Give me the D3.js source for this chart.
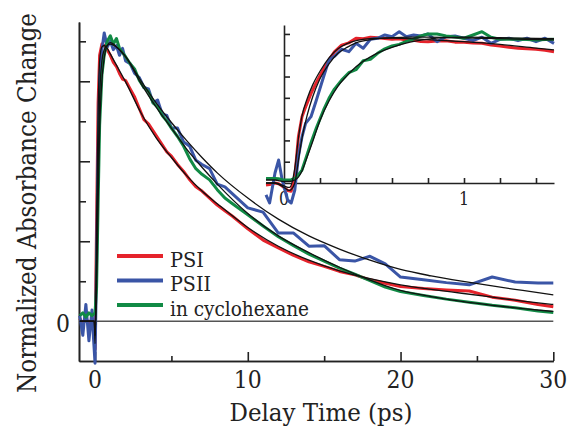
<!DOCTYPE html>
<html>
<head>
<meta charset="utf-8">
<script src="https://cdn.jsdelivr.net/npm/d3@7"></script>
</head>
<body style="margin:0">
<div id="root"></div>
<script>
// main panel data (time in ps, normalized absorbance change)
const mainTime = [-1.0,-0.8,-0.6,-0.4,-0.2,-0.1,0,0.1,0.2,0.3,0.45,0.6,0.8,1.0,1.2,1.4,1.6,1.8,2.0,
    2.3,2.6,2.9,3.2,3.5,3.8,4.1,4.4,4.7,5.0,5.4,5.8,6.2,6.6,7.0,7.5,8.0,8.5,
    9,10,11,12,13,14,15,16,17,18,19,20,21.5,23,24.5,26,27.5,29,30];
const psiMain = [0.01,-0.01,0.015,-0.015,0.01,-0.02,-0.1,0.35,0.78,0.95,0.99,0.985,0.97,0.95,0.925,0.91,0.885,0.865,0.86,
    0.83,0.80,0.76,0.72,0.705,0.68,0.655,0.63,0.605,0.59,0.56,0.535,0.505,0.48,0.465,0.44,0.415,0.395,
    0.375,0.33,0.29,0.262,0.235,0.212,0.196,0.178,0.166,0.148,0.136,0.124,0.117,0.112,0.108,0.086,0.075,0.06,0.052];
const psiiMain = [0.02,-0.05,0.06,-0.07,0.04,-0.06,-0.15,0.22,0.62,0.86,0.97,1.03,0.98,1.0,0.97,0.985,0.95,0.975,0.93,
    0.92,0.885,0.87,0.835,0.83,0.78,0.79,0.74,0.735,0.69,0.69,0.64,0.625,0.575,0.56,0.545,0.49,0.48,
    0.455,0.405,0.39,0.315,0.315,0.268,0.27,0.22,0.215,0.232,0.205,0.158,0.148,0.138,0.13,0.158,0.14,0.137,0.137];
const cycloMain = [0.02,0.03,0.015,0.03,0.02,0.025,0.03,0.12,0.42,0.7,0.88,0.95,1.0,1.02,0.99,1.01,0.975,0.96,0.945,
    0.92,0.90,0.86,0.835,0.82,0.78,0.765,0.735,0.715,0.69,0.66,0.625,0.58,0.545,0.525,0.505,0.47,0.44,
    0.42,0.38,0.34,0.302,0.27,0.24,0.215,0.19,0.168,0.145,0.122,0.106,0.092,0.079,0.068,0.057,0.048,0.037,0.031];

const fitTime = [-1.0,-0.3,-0.05,0,0.05,0.1,0.2,0.3,0.45,0.6,0.8,1.0,1.5,2,3,4,5,6,7,8,10,12,14,16,18,20,22,24,26,28,30];
const psiFit = [0,0,0,-0.08,0.05,0.35,0.74,0.93,0.98,0.985,0.975,0.955,0.905,0.855,0.745,0.655,0.585,0.52,0.465,0.42,
    0.335,0.268,0.218,0.18,0.152,0.13,0.114,0.1,0.086,0.072,0.06];
const psiiFit = [0,0,0,-0.05,0.04,0.2,0.55,0.8,0.93,0.97,0.985,0.99,0.975,0.945,0.86,0.78,0.71,0.645,0.585,0.53,
    0.44,0.365,0.305,0.258,0.218,0.185,0.162,0.143,0.126,0.11,0.094];
const cycloFit = [0,0,0,-0.05,0.03,0.12,0.42,0.68,0.86,0.94,0.985,0.995,0.975,0.945,0.85,0.765,0.69,0.615,0.55,0.49,
    0.385,0.305,0.245,0.193,0.147,0.11,0.088,0.071,0.057,0.045,0.035];

// inset data (first 1.5 ps)
const insetTime = [-0.1,-0.08,-0.05,-0.03,-0.01,0.02,0.04,0.06,0.08,0.1,0.12,0.15,0.18,0.22,0.25,0.28,0.32,0.36,0.4,0.44,
    0.48,0.52,0.56,0.6,0.64,0.68,0.72,0.76,0.8,0.85,0.9,0.95,1.0,1.05,1.1,1.15,1.2,1.25,1.3,1.35,1.4,1.45,1.5];
const psiInset = [-0.013,-0.01,0.0,-0.005,-0.02,-0.05,-0.055,0.04,0.31,0.445,0.51,0.6,0.675,0.765,0.826,0.88,0.925,0.94,0.971,0.968,
    0.978,0.975,0.97,0.964,0.968,0.96,0.958,0.95,0.948,0.952,0.955,0.945,0.944,0.94,0.937,0.925,0.919,0.91,0.904,0.9,0.897,0.89,0.881];
const psiiInset = [-0.08,-0.134,0.067,0.154,0.02,-0.114,-0.134,-0.047,0.177,0.31,0.4,0.445,0.557,0.713,0.826,0.85,0.897,0.881,0.937,0.904,
    0.964,0.971,0.993,0.982,1.015,0.982,0.993,0.987,1.0,0.948,0.982,0.987,0.971,0.955,0.978,0.937,0.964,0.971,0.955,0.971,0.948,0.971,0.937];
const cycloInset = [0.031,0.03,0.031,0.028,0.022,0.02,0.022,0.03,0.055,0.087,0.16,0.27,0.37,0.49,0.568,0.63,0.69,0.74,0.76,0.82,
    0.83,0.87,0.9,0.919,0.93,0.95,0.965,0.987,1.0,1.0,0.987,0.98,0.971,0.993,1.015,0.978,0.964,0.965,0.964,0.962,0.96,0.963,0.964];

const insetFitTime = [-0.1,-0.05,0,0.03,0.06,0.08,0.1,0.13,0.16,0.2,0.25,0.3,0.35,0.4,0.5,0.6,0.7,0.8,0.9,1.0,1.2,1.4,1.5];
const psiInsetFit = [0,0,-0.02,-0.03,0.1,0.3,0.45,0.57,0.66,0.75,0.84,0.9,0.935,0.955,0.97,0.972,0.968,0.962,0.955,0.948,0.93,0.905,0.893];
const psiiInsetFit = [0,0,-0.03,-0.05,0.0,0.15,0.3,0.46,0.58,0.7,0.8,0.87,0.91,0.94,0.965,0.975,0.978,0.978,0.976,0.973,0.968,0.962,0.96];
const cycloInsetFit = [0.02,0.02,0.01,0.01,0.02,0.04,0.08,0.18,0.28,0.42,0.55,0.65,0.72,0.78,0.86,0.91,0.945,0.965,0.975,0.978,0.975,0.97,0.968];

const xMajorTicks = [0, 10, 20, 30];
const xMinorTicks = [5, 15, 25];
const yLongTicks = [0, 2/7, 4/7, 6/7];
const yShortTicks = [1/7, 3/7, 5/7, 1];
const insetXTicks = [0.2, 0.4, 0.6, 0.8, 1.0, 1.2, 1.4];
const insetXLabels = [0, 1];
const insetYTicks = [1/7, 2/7, 3/7, 4/7, 5/7, 6/7, 1];

const seriesNames = ["PSI", "PSII", "in cyclohexane"];
const seriesColors = ["#e5232b", "#3a55a6", "#118a45"];

// the only serif face the renderer resolves; width is squeezed to the original Times widths
const serifFace = "DejaVu Serif";

const outerWidth = 574;
const outerHeight = 427;

let svg = d3.select("#root")
            .append("svg")
            .attr("width", outerWidth)
            .attr("height", outerHeight);

function addText(x, y, size, str, anchor, width) {
    let t = svg.append("text")
               .attr("x", x)
               .attr("y", y)
               .attr("text-anchor", anchor || "start")
               .attr("fill", "#222")
               .attr("font-family", serifFace)
               .attr("font-size", size)
               .text(str);
    if (width) { t.attr("textLength", width).attr("lengthAdjust", "spacingAndGlyphs"); }
    return t;
}

let scaleX = d3.scaleLinear().domain([-1.05, 30]).range([79, 553.3]);
let scaleY = d3.scaleLinear().domain([-0.142, 1.069]).range([361, 22]);

let insetX = d3.scaleLinear().domain([0, 1.5]).range([284, 554]);
let insetY = d3.scaleLinear().domain([0, 1.06]).range([183, 25]);

// axis titles
addText(321, 421, 24, "Delay Time (ps)", "middle", 183);
addText(-203, 36, 25.5, "Normalized Absorbance Change", "middle", 380).attr("transform", "rotate(-90)");

// tick labels
xMajorTicks.forEach(t => addText(scaleX(t), 388, 24.5, t, "middle", String(t).length * 14));
addText(70, 332, 24.5, "0", "end", 14);
insetXLabels.forEach(t => addText(insetX(t), 205, 19, t, "middle", 10));

// legend
const legendWidths = [34, 41, 139];
seriesNames.forEach((name, i) => {
    addText(170, 266.5 + i * 24.5, 20.5, name, "start", legendWidths[i]);
    svg.append("line")
        .attr("x1", 117).attr("x2", 163)
        .attr("y1", 256 + i * 24.5).attr("y2", 256 + i * 24.5)
        .attr("stroke", seriesColors[i])
        .attr("stroke-width", 4);
});

function drawSeries(g, xs, ys, times, values, color, w) {
    let line = d3.line()
                 .x((d, i) => xs(times[i]))
                 .y(d => ys(d))
                 .curve(color == "#111" ? d3.curveMonotoneX : d3.curveLinear);
    g.append("path")
        .datum(values)
        .attr("d", line)
        .attr("fill", "none")
        .attr("stroke", color)
        .attr("stroke-width", w)
        .attr("stroke-linejoin", "round");
}

// zero line
svg.append("line")
    .attr("x1", scaleX.range()[0]).attr("x2", scaleX.range()[1])
    .attr("y1", scaleY(0)).attr("y2", scaleY(0))
    .attr("stroke", "#555").attr("stroke-width", 1.6);

// axes: lines only, labels are drawn above
let xAxis = d3.axisBottom(scaleX).tickValues(xMajorTicks).tickSize(-9).tickSizeOuter(0).tickFormat("");
let xAxisMinor = d3.axisBottom(scaleX).tickValues(xMinorTicks).tickSize(-5).tickSizeOuter(0).tickFormat("");
let yAxisLong = d3.axisLeft(scaleY).tickValues(yLongTicks).tickSize(-11).tickSizeOuter(0).tickFormat("");
let yAxisShort = d3.axisLeft(scaleY).tickValues(yShortTicks).tickSize(-7).tickSizeOuter(0).tickFormat("");

function styleAxis(g) {
    g.selectAll("text").remove();
    g.selectAll("path, line").attr("stroke", "#222").attr("stroke-width", 1.6);
}

svg.append("g").attr("transform", `translate(0, ${scaleY.range()[0]})`).call(xAxis).call(styleAxis);
svg.append("g").attr("transform", `translate(0, ${scaleY.range()[0]})`).call(xAxisMinor).call(styleAxis);
svg.append("g").attr("transform", `translate(${scaleX.range()[0]}, 0)`).call(yAxisLong).call(styleAxis);
svg.append("g").attr("transform", `translate(${scaleX.range()[0]}, 0)`).call(yAxisShort).call(styleAxis);

// main traces
let mainG = svg.append("g");
[psiMain, psiiMain, cycloMain].forEach((vals, i) => {
    drawSeries(mainG, scaleX, scaleY, mainTime, vals, seriesColors[i], 3);
});
[psiFit, psiiFit, cycloFit].forEach(vals => {
    drawSeries(mainG, scaleX, scaleY, fitTime, vals, "#111", 1.3);
});

// inset axes
let insetXAxis = d3.axisBottom(insetX).tickValues(insetXTicks).tickSize(-5).tickSizeOuter(0).tickFormat("");
let insetYAxis = d3.axisLeft(insetY).tickValues(insetYTicks).tickSize(-6).tickSizeOuter(0).tickFormat("");
svg.append("g").attr("transform", `translate(0, ${insetY(0)})`).call(insetXAxis).call(styleAxis);
svg.append("g").attr("transform", `translate(${insetX(0)}, 0)`).call(insetYAxis).call(styleAxis);

let insetG = svg.append("g");
[psiInset, psiiInset, cycloInset].forEach((vals, i) => {
    drawSeries(insetG, insetX, insetY, insetTime, vals, seriesColors[i], 3);
});
[psiInsetFit, psiiInsetFit, cycloInsetFit].forEach(vals => {
    drawSeries(insetG, insetX, insetY, insetFitTime, vals, "#111", 1.3);
});
</script>
</body>
</html>
